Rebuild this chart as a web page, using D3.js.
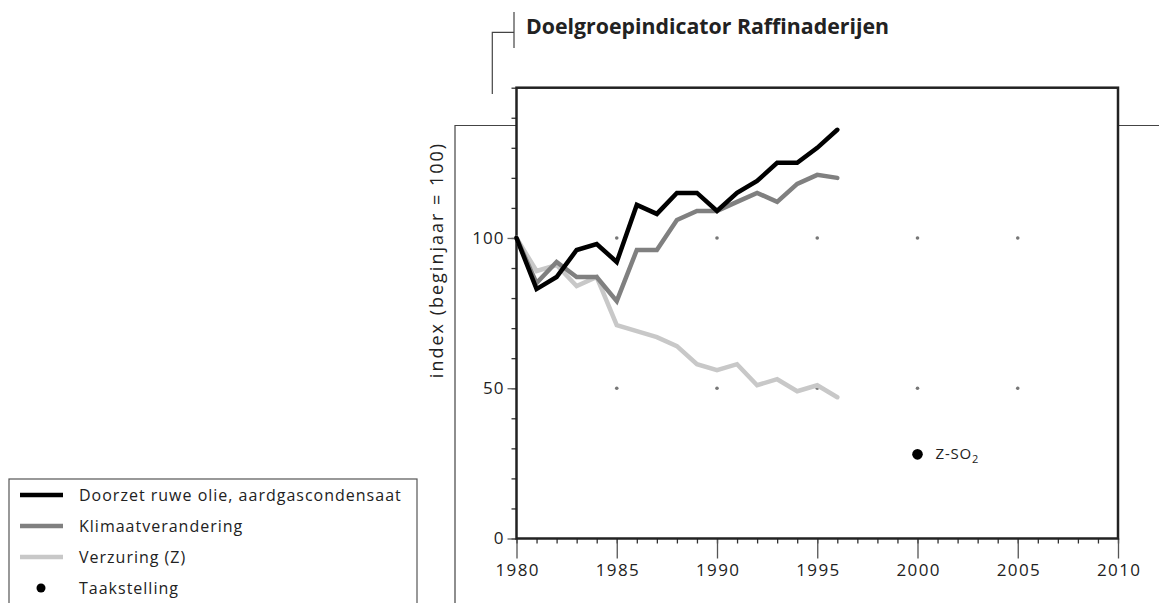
<!DOCTYPE html>
<meta charset="utf-8">
<style>
body { margin: 0; background: #fff; }
text { font-family: "Open Sans", sans-serif; fill: #222; }
</style>
<script src="https://d3js.org/d3.v7.min.js"></script>
<div id="my_dataviz"></div>
<script>

// data
var years = [1980, 1981, 1982, 1983, 1984, 1985, 1986, 1987, 1988, 1989, 1990, 1991, 1992, 1993, 1994, 1995, 1996];
var doorzet = [100, 83, 87, 96, 98, 92, 111, 108, 115, 115, 109, 115, 119, 125, 125, 130, 136];
var klimaat = [100, 85, 92, 87, 87, 79, 96, 96, 106, 109, 109, 112, 115, 112, 118, 121, 120];
var verzuring = [100, 89, 91, 84, 87, 71, 69, 67, 64, 58, 56, 58, 51, 53, 49, 51, 47];
var gridYears = [1985, 1990, 1995, 2000, 2005];
var gridLevels = [50, 100];
var targetYear = 2000, targetValue = 28, targetLabel = "Z-SO";
var yTicks = [0, 50, 100];
var xTicks = [1980, 1985, 1990, 1995, 2000, 2005, 2010];

var seriesNames = ["Doorzet ruwe olie, aardgascondensaat", "Klimaatverandering", "Verzuring (Z)"];
var seriesColors = ["#000000", "#808080", "#c8c8c8"];

var width = 1159, height = 603;

var svg = d3.select("#my_dataviz")
  .append("svg")
    .attr("width", width)
    .attr("height", height);

// scales
var x = d3.scaleLinear().domain([1980, 2010]).range([516.5, 1118]);
var y = d3.scaleLinear().domain([0, 150]).range([538.5, 87.7]);

// ---------------------------//
//       FRAME LINES          //
// ---------------------------//
var frame = svg.append("g")
  .attr("fill", "none")
  .attr("stroke", "#444")
  .attr("stroke-width", 1.2);

frame.append("path").attr("d", "M514,12V48M514,32.3H492.3V94");
frame.append("path").attr("d", "M455,603V125.5H" + x(1980));
frame.append("path").attr("d", "M" + x(2010) + ",125.5H1159");

// title
svg.append("text")
  .attr("x", 526)
  .attr("y", 34)
  .style("font-size", "21.3px")
  .style("font-weight", "bold")
  .text("Doelgroepindicator Raffinaderijen");

// ---------------------------//
//       AXES                 //
// ---------------------------//
// minor ticks
svg.append("g")
  .attr("transform", "translate(" + x(1980) + ",0)")
  .call(d3.axisLeft(y).tickValues(d3.range(0, 151, 10)).tickSize(5).tickFormat(""))
  .call(function (g) { g.select(".domain").remove(); g.selectAll("line").attr("stroke", "#333").attr("stroke-width", 1.3); });

svg.append("g")
  .attr("transform", "translate(0," + y(0) + ")")
  .call(d3.axisBottom(x).tickValues(d3.range(1980, 2011, 1)).tickSize(5).tickFormat(""))
  .call(function (g) { g.select(".domain").remove(); g.selectAll("line").attr("stroke", "#333").attr("stroke-width", 1.3); });

// major ticks + labels
svg.append("g")
  .attr("transform", "translate(" + x(1980) + ",0)")
  .call(d3.axisLeft(y).tickValues(yTicks).tickSize(9).tickPadding(3))
  .call(function (g) {
    g.select(".domain").remove();
    g.selectAll("line").attr("stroke", "#666").attr("stroke-width", 1.3);
    g.selectAll("text").style("font-size", "17px").style("letter-spacing", "1px").attr("fill", "#222");
  });

svg.append("g")
  .attr("transform", "translate(0," + y(0) + ")")
  .call(d3.axisBottom(x).tickValues(xTicks).tickSize(20).tickPadding(5).tickFormat(d3.format("d")))
  .call(function (g) {
    g.select(".domain").remove();
    g.selectAll("line").attr("stroke", "#555").attr("stroke-width", 1.3);
    g.selectAll("text").style("font-size", "17px").style("letter-spacing", "1.4px").attr("dx", "0.7px").attr("fill", "#222");
  });

// plot box
svg.append("rect")
  .attr("x", x(1980))
  .attr("y", y(150))
  .attr("width", x(2010) - x(1980))
  .attr("height", y(0) - y(150))
  .attr("fill", "none")
  .attr("stroke", "#222")
  .attr("stroke-width", 2.5);

// y axis label
svg.append("text")
  .attr("transform", "translate(443,260) rotate(-90)")
  .attr("text-anchor", "middle")
  .style("font-size", "18px")
  .style("letter-spacing", "2px")
  .text("index (beginjaar = 100)");

// ---------------------------//
//       GRID DOTS            //
// ---------------------------//
var dots = [];
gridLevels.forEach(function (v) { gridYears.forEach(function (yr) { dots.push([yr, v]); }); });
svg.append("g")
  .selectAll("circle")
  .data(dots)
  .enter()
  .append("circle")
    .attr("cx", function (d) { return x(d[0]); })
    .attr("cy", function (d) { return y(d[1]); })
    .attr("r", 1.8)
    .attr("fill", "#777");

// ---------------------------//
//       LINES                //
// ---------------------------//
var line = d3.line()
  .x(function (d, i) { return x(years[i]); })
  .y(function (d) { return y(d); });

var allSeries = [verzuring, klimaat, doorzet];
var allColors = [seriesColors[2], seriesColors[1], seriesColors[0]];
svg.append("g")
  .selectAll("path")
  .data(allSeries)
  .enter()
  .append("path")
    .attr("d", line)
    .attr("fill", "none")
    .attr("stroke", function (d, i) { return allColors[i]; })
    .attr("stroke-width", 4.5)
    .attr("stroke-linejoin", "miter")
    .attr("stroke-linecap", "round");

// target point
svg.append("circle")
  .attr("cx", x(targetYear))
  .attr("cy", y(targetValue))
  .attr("r", 5.3)
  .attr("fill", "#000");

var lbl = svg.append("text")
  .attr("x", x(targetYear) + 18)
  .attr("y", y(targetValue) + 5)
  .style("font-size", "15px")
  .style("letter-spacing", "0.8px")
  .text(targetLabel);
lbl.append("tspan")
  .attr("dy", 4)
  .style("font-size", "11px")
  .text("2");

// ---------------------------//
//       LEGEND               //
// ---------------------------//
svg.append("rect")
  .attr("x", 9)
  .attr("y", 479)
  .attr("width", 408)
  .attr("height", 140)
  .attr("fill", "none")
  .attr("stroke", "#555")
  .attr("stroke-width", 1.2);

var rowY = d3.scalePoint().domain([0, 1, 2, 3]).range([495, 588]);

seriesNames.forEach(function (name, i) {
  svg.append("line")
    .attr("x1", 20).attr("x2", 63)
    .attr("y1", rowY(i)).attr("y2", rowY(i))
    .attr("stroke", seriesColors[i])
    .attr("stroke-width", 4.5);
  svg.append("text")
    .attr("x", 79)
    .attr("y", rowY(i) + 5.5)
    .style("font-size", "16px")
    .style("letter-spacing", "1px")
    .text(name);
});

svg.append("circle")
  .attr("cx", 41)
  .attr("cy", rowY(3))
  .attr("r", 4.5)
  .attr("fill", "#000");
svg.append("text")
  .attr("x", 79)
  .attr("y", rowY(3) + 5.5)
  .style("font-size", "16px")
  .style("letter-spacing", "1px")
  .text("Taakstelling");

</script>
